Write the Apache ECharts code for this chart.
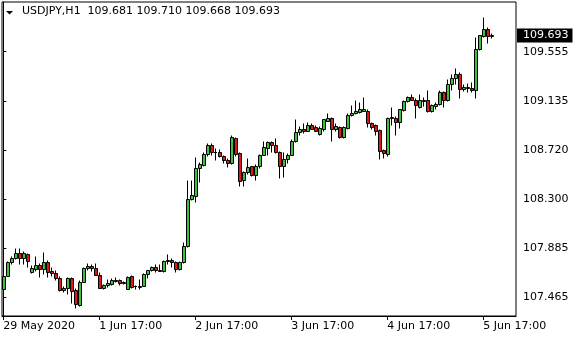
<!DOCTYPE html>
<html>
<head>
<meta charset="utf-8">
<script src="https://cdn.jsdelivr.net/npm/echarts@6/dist/echarts.min.js"></script>
<style>
html,body{margin:0;padding:0;background:#fff;}
#c{width:580px;height:340px;}
</style>
</head>
<body>
<div id="c"></div>
<script>
const symbolTitle = 'USDJPY,H1';
const opens = [107.530,107.644,107.763,107.793,107.842,107.793,107.833,107.678,107.700,107.734,
107.700,107.765,107.686,107.669,107.629,107.521,107.538,107.621,107.521,107.397,
107.595,107.708,107.729,107.708,107.652,107.544,107.564,107.572,107.601,107.610,
107.581,107.533,107.640,107.555,107.550,107.555,107.660,107.689,107.717,107.683,
107.683,107.768,107.782,107.763,107.703,107.763,107.895,108.299,108.327,108.563,
108.585,108.684,108.761,108.699,108.699,108.667,108.633,108.605,108.818,108.690,
108.457,108.525,108.574,108.500,108.576,108.676,108.733,108.784,108.755,108.699,
108.576,108.642,108.676,108.789,108.869,108.897,108.880,108.931,108.908,108.852,
108.889,108.965,108.988,108.895,108.912,108.823,108.903,109.010,109.031,109.039,
109.050,109.050,108.946,108.925,108.883,108.718,108.684,108.988,108.988,108.951,
109.053,109.130,109.167,109.144,109.082,109.130,109.138,109.044,109.093,109.110,
109.206,109.138,109.272,109.329,109.365,109.235,109.240,109.244,109.223,109.575,
109.683,109.740,109.681];
const highs = [107.757,107.771,107.814,107.878,107.878,107.856,107.842,107.734,107.814,107.757,
107.850,107.776,107.720,107.691,107.644,107.558,107.635,107.635,107.544,107.606,
107.720,107.757,107.748,107.757,107.672,107.572,107.615,107.623,107.635,107.615,
107.601,107.646,107.649,107.569,107.618,107.669,107.697,107.731,107.740,107.748,
107.776,107.833,107.797,107.768,107.768,107.930,108.463,108.463,108.656,108.610,
108.695,108.770,108.770,108.733,108.724,108.676,108.648,108.846,108.827,108.695,
108.534,108.648,108.582,108.591,108.682,108.789,108.795,108.795,108.818,108.704,
108.699,108.690,108.804,108.974,108.917,108.946,108.954,108.946,108.931,108.917,
108.982,109.031,108.993,108.946,108.917,108.917,109.031,109.101,109.144,109.124,
109.164,109.059,108.954,108.937,108.895,108.724,108.997,109.082,109.002,109.065,
109.138,109.178,109.187,109.158,109.187,109.167,109.229,109.110,109.121,109.223,
109.215,109.320,109.365,109.414,109.376,109.280,109.286,109.291,109.678,109.695,
109.848,109.763,109.710];
const lows = [107.450,107.640,107.748,107.785,107.742,107.748,107.720,107.669,107.686,107.635,
107.657,107.635,107.644,107.606,107.516,107.507,107.493,107.416,107.368,107.388,
107.587,107.691,107.686,107.650,107.538,107.530,107.552,107.567,107.587,107.567,
107.572,107.530,107.541,107.533,107.533,107.553,107.626,107.683,107.678,107.681,
107.674,107.740,107.720,107.674,107.697,107.754,107.887,108.293,108.270,108.440,
108.576,108.667,108.676,108.627,108.656,108.605,108.571,108.599,108.661,108.412,
108.412,108.512,108.491,108.455,108.563,108.670,108.676,108.699,108.690,108.478,
108.483,108.605,108.670,108.784,108.840,108.861,108.874,108.889,108.874,108.846,
108.880,108.959,108.789,108.880,108.818,108.818,108.897,109.002,109.022,109.031,
109.044,108.908,108.889,108.840,108.639,108.648,108.667,108.923,108.846,108.903,
109.044,109.121,109.138,108.988,109.073,109.087,109.036,109.036,109.059,109.101,
109.082,109.130,109.229,109.280,109.158,109.215,109.206,109.206,109.158,109.564,
109.678,109.627,109.668];
const closes = [107.644,107.763,107.799,107.842,107.793,107.836,107.771,107.714,107.734,107.700,
107.765,107.678,107.669,107.621,107.521,107.544,107.621,107.516,107.402,107.595,
107.708,107.729,107.708,107.652,107.544,107.567,107.581,107.610,107.604,107.581,
107.595,107.635,107.550,107.558,107.561,107.660,107.689,107.717,107.697,107.695,
107.774,107.782,107.763,107.703,107.763,107.901,108.299,108.333,108.563,108.591,
108.684,108.761,108.695,108.701,108.667,108.633,108.605,108.827,108.684,108.449,
108.525,108.571,108.501,108.582,108.676,108.738,108.784,108.755,108.699,108.576,
108.642,108.676,108.795,108.869,108.897,108.874,108.931,108.897,108.880,108.903,
108.974,108.988,108.895,108.917,108.823,108.908,109.016,109.031,109.044,109.059,
109.059,108.946,108.912,108.880,108.704,108.690,108.988,108.993,108.951,109.059,
109.130,109.167,109.144,109.101,109.144,109.144,109.044,109.101,109.110,109.206,
109.138,109.272,109.329,109.365,109.235,109.252,109.252,109.223,109.575,109.689,
109.740,109.683,109.693];
const xTickIndex = [0, 24, 48, 72, 96, 120];
const xTickLabels = ['29 May 2020', '1 Jun 17:00', '2 Jun 17:00', '3 Jun 17:00', '4 Jun 17:00', '5 Jun 17:00'];
const yTickValues = [107.465, 107.885, 108.300, 108.720, 109.135, 109.555];

const last = closes.length - 1;
const lastPrice = closes[last];
const candleData = opens.map((o, i) => [i, o, closes[i], lows[i], highs[i]]);
const titleText = symbolTitle + '  ' + [opens[last], highs[last], lows[last], closes[last]].map(v => v.toFixed(3)).join(' ');

const yMin = 107.306, yMax = 109.978;
const font = '"DejaVu Sans", Verdana, sans-serif';
const upColor = '#3cc23c', downColor = '#e01818';

function renderCandle(params, api) {
  const x = api.value(0), o = api.value(1), c = api.value(2), l = api.value(3), h = api.value(4);
  const po = api.coord([x, o]), pc = api.coord([x, c]), pl = api.coord([x, l]), ph = api.coord([x, h]);
  const p = Math.round(po[0] - 0.5);
  const cx = p + 0.5;
  const top = Math.round(Math.min(po[1], pc[1]) - 0.5) + 0.5;
  const bot = Math.round(Math.max(po[1], pc[1]) - 0.5) + 0.5;
  const yh = Math.round(ph[1] - 0.5) + 0.5;
  const yl = Math.round(pl[1] - 0.5) + 0.5;
  const fill = c >= o ? upColor : downColor;
  const children = [
    {type: 'line', shape: {x1: cx, y1: yh, x2: cx, y2: top}, style: {stroke: '#000', lineWidth: 1}},
    {type: 'line', shape: {x1: cx, y1: bot, x2: cx, y2: yl}, style: {stroke: '#000', lineWidth: 1}}
  ];
  if (bot - top < 1) {
    children.push({type: 'line', shape: {x1: p - 1, y1: top, x2: p + 2, y2: top}, style: {stroke: '#000', lineWidth: 1}});
  } else {
    children.push({type: 'rect', shape: {x: p - 0.5, y: top, width: 3, height: bot - top}, style: {fill: fill, stroke: '#000', lineWidth: 1}});
  }
  return {type: 'group', children: children};
}

const chart = echarts.init(document.getElementById('c'), null, {renderer: 'canvas'});
chart.setOption({
  animation: false,
  backgroundColor: '#fff',
  grid: {left: 2, right: 64, top: 2, bottom: 24, show: true, borderColor: '#000', borderWidth: 1, backgroundColor: 'transparent'},
  xAxis: {
    type: 'value', min: -0.325, max: 128.175,
    axisLine: {show: true, onZero: false, lineStyle: {color: '#000', width: 1}},
    axisTick: {show: true, customValues: xTickIndex, length: 4, lineStyle: {color: '#000'}},
    axisLabel: {
      customValues: xTickIndex, align: 'left', margin: 5, color: '#000',
      fontFamily: font, fontSize: 11,
      formatter: v => xTickLabels[xTickIndex.indexOf(Math.round(v))] || ''
    },
    splitLine: {show: false}
  },
  yAxis: [{
    type: 'value', position: 'right', min: yMin, max: yMax, scale: true,
    axisLine: {show: true, lineStyle: {color: '#000', width: 1}},
    axisTick: {show: true, customValues: yTickValues, length: 3, lineStyle: {color: '#000'}},
    axisLabel: {customValues: yTickValues, margin: 7, color: '#000', fontFamily: font, fontSize: 11,
      formatter: v => v.toFixed(3)},
    splitLine: {show: false}
  }, {
    type: 'value', position: 'right', min: yMin, max: yMax, scale: true,
    axisLine: {show: false}, axisTick: {show: false}, splitLine: {show: false},
    axisLabel: {customValues: [lastPrice], margin: 1, color: '#fff', backgroundColor: '#000',
      padding: [1, 4, 1, 6], fontFamily: font, fontSize: 11, lineHeight: 12,
      formatter: v => v.toFixed(3)}
  }],
  series: [{
    type: 'custom',
    data: candleData,
    encode: {x: 0, y: [1, 2, 3, 4]},
    renderItem: renderCandle,
    clip: true,
    silent: true
  }],
  graphic: [
    {type: 'polygon', shape: {points: [[6, 11], [13, 11], [9.5, 14.5]]}, style: {fill: '#000'}},
    {type: 'text', left: 22, top: 6, style: {text: titleText, fill: '#000', font: '11px ' + font}}
  ]
});
</script>
</body>
</html>
